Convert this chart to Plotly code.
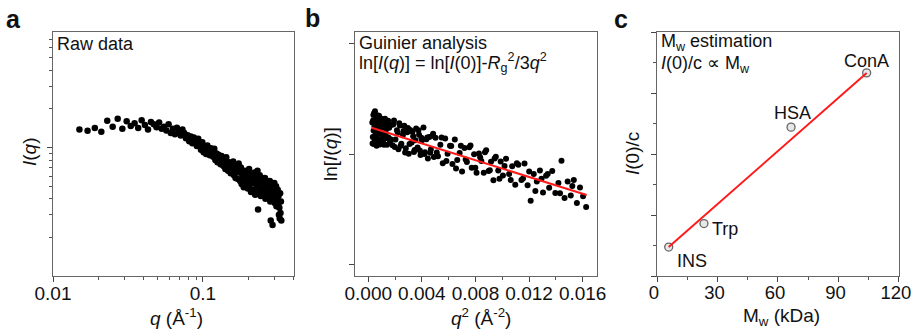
import plotly.graph_objects as go

# ---------------- data ----------------
# panel a: raw scattering curve
q_a = [0.015,0.017,0.019,0.021,0.023,0.025,0.027,0.029,0.031,0.033,
       0.035,0.037,0.039,0.041,0.043,0.045,0.047,0.049,0.051,0.053,
       0.055,0.057,0.059,0.061,0.063,0.065,0.067,0.069,0.071,0.073,
       0.075,0.077,0.079,0.081,0.083,0.085,0.087,0.089,0.091,0.093,
       0.095,0.097,0.099,0.101,0.103,0.105,0.107,0.109,0.111,0.113,
       0.115,0.117,0.119,0.121,0.123,0.125,0.127,0.129,0.131,0.133,
       0.135,0.137,0.139,0.141,0.143,0.145,0.147,0.149,0.151,0.153,
       0.155,0.157,0.159,0.161,0.163,0.165,0.167,0.169,0.171,0.173,
       0.175,0.177,0.179,0.181,0.183,0.185,0.187,0.189,0.191,0.193,
       0.195,0.197,0.199,0.201,0.203,0.205,0.207,0.209,0.211,0.213,
       0.215,0.217,0.219,0.221,0.223,0.225,0.227,0.229,0.231,0.233,
       0.235,0.237,0.239,0.241,0.243,0.245,0.247,0.249,0.251,0.253,
       0.255,0.257,0.259,0.261,0.263,0.265,0.267,0.269,0.271,0.273,
       0.275,0.277,0.279,0.281,0.283,0.285,0.287,0.289,0.291,0.293,
       0.295,0.297,0.299,0.301,0.303,0.305,0.307,0.309,0.311,0.313,
       0.315,0.317,0.319,0.321,0.323,0.325,0.327,0.329,0.331,0.333]
I_a = [1.38,1.35,1.42,1.33,1.62,1.45,1.68,1.40,1.60,1.47,
       1.55,1.42,1.63,1.50,1.38,1.58,1.52,1.44,1.57,1.40,
       1.45,1.36,1.52,1.30,1.40,1.27,1.43,1.33,1.24,1.38,
       1.30,1.18,1.25,1.12,1.22,1.08,1.20,1.14,1.03,1.17,
       1.05,0.96,1.10,0.92,1.01,0.89,1.04,0.95,0.87,0.99,
       0.93,0.85,0.98,0.80,0.90,0.77,0.88,0.83,0.74,0.86,
       0.82,0.72,0.79,0.68,0.84,0.74,0.66,0.77,0.70,0.63,
       0.73,0.64,0.78,0.61,0.69,0.58,0.71,0.66,0.57,0.75,
       0.64,0.55,0.70,0.52,0.62,0.58,0.49,0.66,0.56,0.60,
       0.53,0.63,0.48,0.59,0.68,0.51,0.57,0.45,0.62,0.54,
       0.60,0.47,0.55,0.64,0.43,0.52,0.58,0.49,0.66,0.33,
       0.56,0.45,0.61,0.50,0.42,0.54,0.47,0.58,0.44,0.52,
       0.53,0.44,0.58,0.40,0.50,0.46,0.55,0.41,0.52,0.47,
       0.50,0.42,0.55,0.38,0.27,0.47,0.44,0.52,0.25,0.40,
       0.48,0.41,0.53,0.37,0.46,0.43,0.50,0.35,0.45,0.39,
       0.47,0.36,0.42,0.30,0.34,0.28,0.44,0.31,0.38,0.27]

# panel b: Guinier plot
q2_b = [0.00030,0.00034,0.00038,0.00042,0.00046,0.00050,0.00054,0.00058,0.00062,0.00066,
        0.00070,0.00074,0.00078,0.00082,0.00086,0.00090,0.00095,0.00100,0.00105,0.00110,
        0.00115,0.00120,0.00125,0.00130,0.00135,0.00140,0.00145,0.00150,0.00156,0.00162,
        0.00170,0.00181,0.00192,0.00203,0.00214,0.00225,0.00236,0.00247,0.00258,0.00269,
        0.00280,0.00291,0.00302,0.00313,0.00324,0.00335,0.00346,0.00357,0.00368,0.00379,
        0.00390,0.00401,0.00412,0.00423,0.00434,0.00445,0.00456,0.00467,0.00478,0.00490,
        0.00502,0.00520,0.00538,0.00556,0.00574,0.00592,0.00610,0.00628,0.00646,0.00664,
        0.00682,0.00700,0.00718,0.00736,0.00754,0.00772,0.00790,0.00808,0.00826,0.00844,
        0.00862,0.00880,0.00898,0.00916,0.00934,0.00952,0.00970,0.00988,
        0.01005,0.01028,0.01051,0.01074,0.01097,0.01120,0.01143,0.01166,0.01189,0.01212,
        0.01235,0.01258,0.01281,0.01304,0.01327,0.01350,0.01373,0.01396,0.01419,0.01442,
        0.01465,0.01488,0.01511,0.01534,0.01557,0.01580,0.01603,0.01626,
        0.00032,0.00036,0.00040,0.00044,0.00048,0.00052,0.00056,0.00060,0.00064,0.00068,
        0.00072,0.00076,0.00080,0.00088,0.00097,0.00107,0.00117,0.00127,0.00137,0.00148,
        0.00166,0.00186,0.00198,0.00220,0.00231,0.00242,0.00263,0.00275,0.00296,0.00308,
        0.00330,0.00341,0.00352,0.00374,0.00385,0.00396,0.00418,0.00440,0.00462,0.00484,
        0.00511,0.00547,0.00583,0.00619,0.00655,0.00691,0.00727,0.00763,0.00799,0.00835,
        0.00871,0.00907,0.00943,0.00979,0.01017,0.01063,0.01109,0.01155,0.01201,0.01247,
        0.01293,0.01339,0.01431,0.01523]
lnI_b = [0.287,0.155,0.354,0.090,0.251,0.389,0.178,0.316,0.075,0.353,
         0.222,0.320,0.129,0.287,0.086,0.254,0.322,0.180,0.288,0.107,
         0.265,0.143,0.321,0.189,0.227,0.085,0.283,0.151,0.239,0.117,
         0.264,0.079,0.305,0.131,0.217,0.043,0.259,0.094,0.170,0.256,
         0.052,0.198,0.003,0.219,0.105,0.161,0.037,0.232,0.058,0.174,
         -0.010,0.126,0.241,0.017,0.133,-0.041,0.155,0.040,0.166,-0.028,
         0.147,-0.020,0.083,-0.084,0.140,0.003,0.076,-0.091,0.132,-0.055,
         0.008,-0.158,0.055,-0.072,0.061,-0.126,-0.003,-0.170,0.004,-0.063,
         -0.170,0.033,-0.154,-0.071,-0.238,-0.024,-0.151,-0.068,
         -0.195,-0.043,-0.182,-0.111,-0.280,-0.098,-0.237,-0.086,-0.285,-0.424,
         -0.182,-0.251,-0.150,-0.349,-0.197,-0.306,-0.155,-0.354,-0.263,-0.061,
         -0.400,-0.249,-0.378,-0.236,-0.445,-0.304,-0.383,-0.482,
         0.096,0.305,0.213,0.372,0.130,0.269,0.347,0.156,0.324,0.103,
         0.271,0.190,0.348,0.135,0.232,0.308,0.084,0.270,0.146,0.302,
         0.135,0.268,0.063,0.195,0.280,0.076,0.208,0.014,0.236,0.091,
         0.203,0.018,0.124,0.216,0.032,0.147,-0.001,0.151,0.012,0.184,
         0.014,0.150,-0.064,0.072,-0.131,0.075,-0.049,0.078,-0.126,-0.030,
         0.016,-0.147,-0.041,-0.225,-0.109,-0.237,-0.084,-0.222,-0.159,-0.337,
         -0.224,-0.182,-0.357,-0.292]
guinier_q2_span = [0.00025, 0.0163]
guinier_lnI0 = 0.2485
guinier_slope = -38.13

# panel c: molecular weight calibration
proteins = ["INS", "Trp", "HSA", "ConA"]
Mw_kDa = [5.8, 23.3, 66.5, 104.0]
I0_c = [0.0095, 0.0172, 0.0488, 0.0666]
mw_fit_span = [5.8, 104.0]
mw_fit_slope = 0.000581
mw_fit_intercept = 0.00613

# ---------------- figure ----------------
FONT = "Liberation Sans, Arial, Helvetica, sans-serif"
W, H = 913, 329
MT, MB = 32, 53

def px(x):
    return x / W

def py(y):
    return (H - MB - y) / (H - MT - MB)

fig = go.Figure()

fig.add_trace(go.Scatter(x=q_a, y=I_a, mode="markers",
                         marker=dict(color="black", size=6.5, line=dict(width=0)),
                         xaxis="x", yaxis="y", showlegend=False))

fig.add_trace(go.Scatter(x=q2_b, y=lnI_b, mode="markers",
                         marker=dict(color="black", size=6, line=dict(width=0)),
                         xaxis="x2", yaxis="y2", showlegend=False))
fig.add_trace(go.Scatter(x=guinier_q2_span,
                         y=[guinier_lnI0 + guinier_slope * v for v in guinier_q2_span],
                         mode="lines", line=dict(color="#ff1a1a", width=2),
                         xaxis="x2", yaxis="y2", showlegend=False))

fig.add_trace(go.Scatter(x=Mw_kDa, y=I0_c, mode="markers",
                         marker=dict(color="rgba(215,215,215,0.6)", size=8,
                                     line=dict(color="#666", width=1.3)),
                         xaxis="x3", yaxis="y3", showlegend=False))
fig.add_trace(go.Scatter(x=mw_fit_span,
                         y=[mw_fit_intercept + mw_fit_slope * v for v in mw_fit_span],
                         mode="lines", line=dict(color="#ff1a1a", width=2),
                         xaxis="x3", yaxis="y3", showlegend=False))

axis_common = dict(showline=True, linecolor="#666", linewidth=1.3, mirror=True,
                   ticks="outside", ticklen=5, tickwidth=1.2, tickcolor="#444",
                   showgrid=False, zeroline=False, automargin=False,
                   ticklabeloverflow="allow",
                   tickfont=dict(family=FONT, size=19, color="#111"))
minor_common = dict(ticks="outside", ticklen=3, tickwidth=1, tickcolor="#555", showgrid=False)

fig.update_layout(
    template="none",
    width=W, height=H,
    margin=dict(l=0, r=0, t=MT, b=MB, pad=0),
    paper_bgcolor="white", plot_bgcolor="white",
    font=dict(family=FONT, color="#111"),
    xaxis=dict(axis_common, domain=[px(53), px(294)], type="log",
               range=[-2, -0.393], tickmode="array", ticklabelstandoff=-5,
               tickvals=[0.01, 0.1], ticktext=["0.01", "0.1"], anchor="y",
               minor=dict(minor_common, tickmode="array",
                          tickvals=[0.02, 0.03, 0.04, 0.05, 0.06, 0.07, 0.08, 0.09,
                                    0.2, 0.3, 0.4])),
    yaxis=dict(axis_common, domain=[0, 1], type="log", range=[-1.0, 0.9],
               tickmode="array", tickvals=[1], showticklabels=False, anchor="x",
               minor=dict(minor_common, tickmode="array",
                          tickvals=[0.2, 0.3, 0.4, 0.5, 0.6, 0.7, 0.8, 0.9,
                                    2, 3, 4, 5, 6, 7])),
    xaxis2=dict(axis_common, domain=[px(355), px(597)], ticklabelstandoff=-5,
                range=[-0.00099, 0.01707], tick0=0, dtick=0.004, tickformat=".3f",
                anchor="y2", minor=dict(minor_common, dtick=0.002)),
    yaxis2=dict(axis_common, domain=[0, 1], range=[-1.109, 1.109], tick0=0, dtick=1,
                showticklabels=False, anchor="x2"),
    xaxis3=dict(axis_common, domain=[px(657), px(899)], range=[0, 120.05],
                ticklabelstandoff=-5, ticklabelshift=-3,
                tickfont=dict(family=FONT, size=18.5, color="#111"),
                tickmode="array", tickvals=[0, 30, 60, 90, 120], anchor="y3",
                minor=dict(minor_common, tickmode="array",
                           tickvals=[15, 45, 75, 105])),
    yaxis3=dict(axis_common, domain=[0, 1], range=[0, 0.08], tick0=0, dtick=0.02,
                showticklabels=False, anchor="x3", minor=dict(minor_common, dtick=0.01)),
)

ann = []
def add_text(text, x, y, size=19, xanchor="center", angle=0, bold=False):
    ann.append(dict(text=("<b>%s</b>" % text) if bold else text,
                    x=px(x), y=py(y), xref="paper", yref="paper",
                    xanchor=xanchor, yanchor="middle", showarrow=False,
                    textangle=angle, font=dict(family=FONT, size=size, color="#111")))

# panel letters
add_text("a", 13.5, 19, size=25, bold=True)
add_text("b", 312, 18, size=25, bold=True)
add_text("c", 621, 19, size=25, bold=True)

# in-panel headers
add_text("Raw data", 55, 44, size=18, xanchor="left")
add_text("Guinier analysis", 357, 43, size=18, xanchor="left")
add_text("ln[<i>I</i>(<i>q</i>)] = ln[<i>I</i>(0)]-<i>R</i><sub>g</sub><sup>2</sup>/3<i>q</i><sup>2</sup>",
         357, 63, size=18, xanchor="left")
add_text("M<sub>w</sub> estimation", 659, 42, size=18, xanchor="left")
add_text("<i>I</i>(0)/c \u221d M<sub>w</sub>", 659, 64, size=18, xanchor="left")

# axis titles
add_text("<i>q</i> (\u00c5<sup>-1</sup>)", 176, 317)
add_text("<i>I</i>(<i>q</i>)", 29, 152, angle=-90)
add_text("<i>q</i><sup>2</sup> (\u00c5<sup>-2</sup>)", 481, 317)
add_text("ln[<i>I</i>(<i>q</i>)]", 330, 154, angle=-90)
add_text("M<sub>w</sub> (kDa)", 781, 317)
add_text("<i>I</i>(0)/c", 632, 154, angle=-90)

# protein labels
shifts = {"INS": (23, -14), "Trp": (21, -5), "HSA": (1, 14), "ConA": (0, 12)}
for name, xv, yv in zip(proteins, Mw_kDa, I0_c):
    dx, dy = shifts[name]
    ann.append(dict(text=name, x=xv, y=yv, xref="x3", yref="y3", showarrow=False,
                    xshift=dx, yshift=dy, font=dict(family=FONT, size=18, color="#111")))

fig.update_layout(annotations=ann)
fig.write_html("out.html", config={"displayModeBar": False},
               post_script="document.body.style.margin='0';")
